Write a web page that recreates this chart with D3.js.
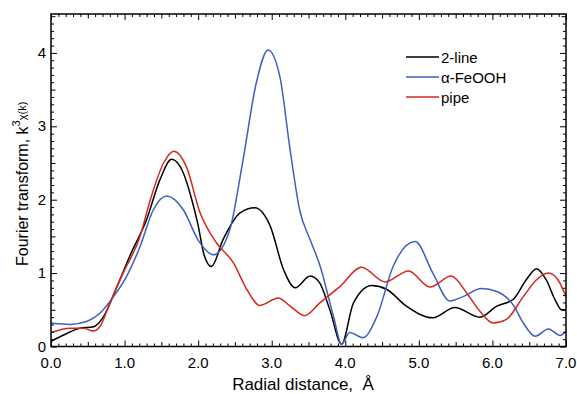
<!DOCTYPE html>
<html>
<head>
<meta charset="utf-8">
<script src="https://cdn.jsdelivr.net/npm/d3@7"></script>
<style>
  body { margin: 0; background: #fff; }
  .chart { width: 577px; height: 394px; }
  text { font-family: "Liberation Sans", Arial, sans-serif; fill: #000; }
</style>
</head>
<body>
<div class="chart"></div>
<script>
// values (radial distance in Å, FT magnitude)
let seriesNames = ["2-line", "α-FeOOH", "pipe"];
let seriesColors = ["#000000", "#3d5fbe", "#d2281e"];

let twoLineR = [0, 0.2, 0.39, 0.58, 0.71, 0.89, 1.07, 1.30, 1.48, 1.64, 1.80, 1.90, 2.0, 2.08, 2.18, 2.34, 2.57, 2.77, 2.98, 3.16, 3.32, 3.52, 3.65, 3.79, 3.95, 4.11, 4.36, 4.56, 4.83, 5.19, 5.49, 5.83, 6.06, 6.28, 6.46, 6.60, 6.73, 6.85, 6.94, 7.0];
let twoLineV = [0.07, 0.17, 0.25, 0.27, 0.40, 0.80, 1.23, 1.73, 2.27, 2.55, 2.36, 2.05, 1.65, 1.25, 1.09, 1.46, 1.82, 1.89, 1.64, 1.05, 0.80, 0.96, 0.87, 0.50, 0.03, 0.59, 0.83, 0.78, 0.55, 0.39, 0.53, 0.40, 0.55, 0.64, 0.91, 1.06, 0.91, 0.64, 0.50, 0.50];

let feoohR = [0, 0.26, 0.48, 0.67, 0.85, 1.03, 1.21, 1.39, 1.57, 1.80, 2.0, 2.21, 2.43, 2.61, 2.79, 2.95, 3.11, 3.25, 3.38, 3.52, 3.65, 3.84, 3.95, 4.06, 4.24, 4.43, 4.65, 4.95, 5.19, 5.42, 5.60, 5.85, 6.06, 6.28, 6.42, 6.58, 6.76, 6.92, 7.0];
let feoohV = [0.32, 0.30, 0.34, 0.46, 0.68, 0.96, 1.36, 1.86, 2.05, 1.86, 1.45, 1.25, 1.59, 2.54, 3.59, 4.04, 3.68, 2.68, 1.86, 1.46, 1.12, 0.41, 0.03, 0.19, 0.12, 0.41, 1.09, 1.43, 1.0, 0.62, 0.68, 0.79, 0.75, 0.57, 0.32, 0.14, 0.24, 0.15, 0.21];

let pipeR = [0, 0.26, 0.44, 0.575, 0.67, 0.8, 0.98, 1.21, 1.35, 1.53, 1.67, 1.84, 2.02, 2.25, 2.48, 2.66, 2.84, 3.09, 3.25, 3.45, 3.65, 3.93, 4.22, 4.54, 4.86, 5.15, 5.44, 5.65, 5.83, 6.01, 6.19, 6.42, 6.60, 6.76, 6.89, 7.0];
let pipeV = [0.19, 0.25, 0.25, 0.21, 0.28, 0.59, 1.0, 1.50, 2.0, 2.50, 2.66, 2.45, 1.84, 1.41, 1.14, 0.78, 0.56, 0.66, 0.55, 0.42, 0.59, 0.82, 1.08, 0.88, 1.03, 0.81, 0.96, 0.73, 0.48, 0.32, 0.37, 0.68, 0.91, 1.0, 0.91, 0.68];

let xTickLabels = ["0.0", "1.0", "2.0", "3.0", "4.0", "5.0", "6.0", "7.0"];
let yTickLabels = ["0", "1", "2", "3", "4"];

let margin;
let width;
let height;
let xScale;
let yScale;
let svg;
let plot;
let line;
let theData;

init();

function init() {
    theData = [
        { name: seriesNames[0], color: seriesColors[0], values: twoLineR.map((r, i) => ({ r: r, v: twoLineV[i] })) },
        { name: seriesNames[1], color: seriesColors[1], values: feoohR.map((r, i) => ({ r: r, v: feoohV[i] })) },
        { name: seriesNames[2], color: seriesColors[2], values: pipeR.map((r, i) => ({ r: r, v: pipeV[i] })) }
    ];

    setDimensions();
    setScales();
    appendElements();
}

function setDimensions() {
    margin = { top: 14, right: 11, bottom: 47.5, left: 51 };
    width = 577 - margin.left - margin.right;
    height = 394 - margin.top - margin.bottom;
}

function setScales() {
    xScale = d3.scaleLinear().range([0, width]).domain([0, 7]);
    yScale = d3.scaleLinear().range([height, 0]).domain([0, 4.53]);

    line = d3.line()
        .x(d => xScale(d.r))
        .y(d => yScale(d.v))
        .curve(d3.curveMonotoneX);
}

function tickLen(v) {
    let t = Math.round(v * 10);
    if (t % 10 === 0) return 6;
    if (t % 5 === 0) return 4.5;
    return 3;
}

function appendElements() {
    svg = d3.select(".chart").append("svg")
        .attr("width", 577)
        .attr("height", 394);

    plot = svg.append("g")
        .attr("transform", `translate(${margin.left},${margin.top})`);

    // clip so curves stay inside the frame
    svg.append("defs").append("clipPath").attr("id", "clip")
        .append("rect").attr("width", width).attr("height", height);

    let lines = plot.append("g").attr("clip-path", "url(#clip)");
    lines.selectAll("path")
        .data(theData)
        .enter()
        .append("path")
        .attr("d", d => line(d.values))
        .attr("fill", "none")
        .attr("stroke", d => d.color)
        .attr("stroke-width", 1.5);

    // inward ticks on all four sides
    let xTicks = d3.range(0, 71).map(i => i / 10);
    let yTicks = d3.range(0, 46).map(i => i / 10).filter(v => v <= 4.53);

    let bottomAxis = plot.append("g")
        .attr("transform", `translate(0,${height})`)
        .call(d3.axisBottom(xScale).tickValues(xTicks).tickSize(0).tickFormat(""));
    bottomAxis.selectAll(".tick line").attr("y2", d => -tickLen(d)).attr("stroke-width", 1);

    let topAxis = plot.append("g")
        .call(d3.axisTop(xScale).tickValues(xTicks).tickSize(0).tickFormat(""));
    topAxis.selectAll(".tick line").attr("y2", d => tickLen(d)).attr("stroke-width", 1);

    let leftAxis = plot.append("g")
        .call(d3.axisLeft(yScale).tickValues(yTicks).tickSize(0).tickFormat(""));
    leftAxis.selectAll(".tick line").attr("x2", d => tickLen(d)).attr("stroke-width", 1);

    let rightAxis = plot.append("g")
        .attr("transform", `translate(${width},0)`)
        .call(d3.axisRight(yScale).tickValues(yTicks).tickSize(0).tickFormat(""));
    rightAxis.selectAll(".tick line").attr("x2", d => -tickLen(d)).attr("stroke-width", 1);

    plot.selectAll(".domain").remove();

    plot.append("rect")
        .attr("width", width)
        .attr("height", height)
        .attr("fill", "none")
        .attr("stroke", "#000")
        .attr("stroke-width", 1.5);

    // tick labels
    plot.selectAll(".xlab")
        .data(xTickLabels)
        .enter()
        .append("text")
        .attr("class", "xlab")
        .attr("x", d => xScale(+d))
        .attr("y", height + 21)
        .attr("text-anchor", "middle")
        .style("font-size", "15px")
        .text(d => d);

    plot.selectAll(".ylab")
        .data(yTickLabels)
        .enter()
        .append("text")
        .attr("class", "ylab")
        .attr("x", -5)
        .attr("y", d => yScale(+d) + 5)
        .attr("text-anchor", "end")
        .style("font-size", "15px")
        .text(d => d);

    // axis titles
    svg.append("text")
        .attr("x", 303)
        .attr("y", 390)
        .attr("text-anchor", "middle")
        .style("font-size", "17px")
        .style("white-space", "pre")
        .text("Radial distance,  Å");

    let yTitle = svg.append("text")
        .attr("transform", "translate(28,266) rotate(-90)")
        .style("font-size", "16px");
    yTitle.append("tspan").text("Fourier transform, k");
    yTitle.append("tspan").attr("dy", -8).style("font-size", "11px").text("3");
    yTitle.append("tspan").attr("dy", 6).style("font-size", "11px").text("χ(k)");

    // legend
    let legend = svg.append("g").attr("transform", "translate(406,57)");
    let rows = legend.selectAll("g")
        .data(theData)
        .enter()
        .append("g")
        .attr("transform", (d, i) => `translate(0,${i * 20})`);
    rows.append("line")
        .attr("x1", 0).attr("x2", 33)
        .attr("stroke", d => d.color)
        .attr("stroke-width", 1.3);
    rows.append("text")
        .attr("x", 35)
        .attr("y", 5.5)
        .style("font-size", "15px")
        .text(d => d.name);
}
</script>
</body>
</html>
